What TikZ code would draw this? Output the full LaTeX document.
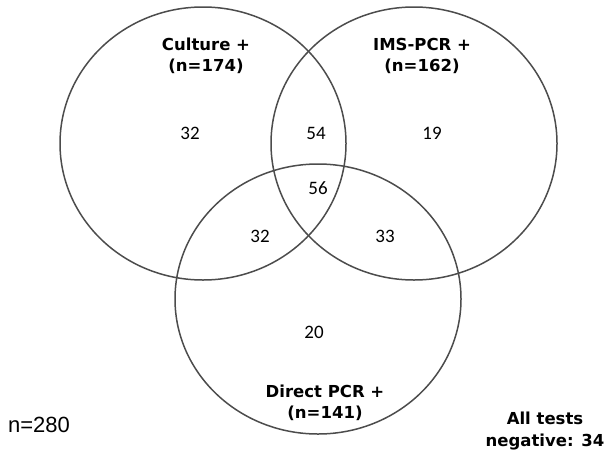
\documentclass[tikz,border=0pt]{standalone}
\usepackage{fontspec}
\setmainfont{Liberation Sans}
\newfontfamily\numfont{Carlito}
\newfontfamily\labfont{DejaVu Sans}
\usepackage{tikz}

\begin{document}
\begin{tikzpicture}
  [x=1pt, y=-1pt,
    venn/.style={draw=black!70, line width=1.5pt},
    count/.style={font=\numfont\fontsize{19}{19}\selectfont, inner sep=0pt},
    setlabel/.style={font=\labfont\bfseries\fontsize{16.5}{21.5}\selectfont, align=center, inner sep=0pt},
    total/.style={font=\fontsize{22}{22}\selectfont, inner sep=0pt}
  ]
  \useasboundingbox (0,0) rectangle (609,458);

  % sets
  \draw[venn] (203,143.5) ellipse [x radius=143pt, y radius=136.5pt];
  \draw[venn] (414,143.5) ellipse [x radius=143pt, y radius=136.5pt];
  \draw[venn] (318,299)   ellipse [x radius=143pt, y radius=135pt];

  % set labels
  \node[setlabel] (culture) at (206,56)  {Culture +\\(n=174)};
  \node[setlabel] (ims)     at (422,56)  {IMS-PCR +\\(n=162)};
  \node[setlabel] (direct)  at (325,403) {Direct PCR +\\(n=141)};

  % region counts
  \path (190,133) node[count] (c1)   {32}
        (316,133) node[count] (c12)  {54}
        (432,133) node[count] (c2)   {19}
        (318,188) node[count] (c123) {56}
        (260,236) node[count] (c13)  {32}
        (385,236) node[count] (c23)  {33}
        (314,332) node[count] (c3)   {20};

  \node[total] (all) at (39,425) {n=280};
  \node[setlabel] (neg) at (545,431) {All tests\\negative: 34};

\end{tikzpicture}
\end{document}
